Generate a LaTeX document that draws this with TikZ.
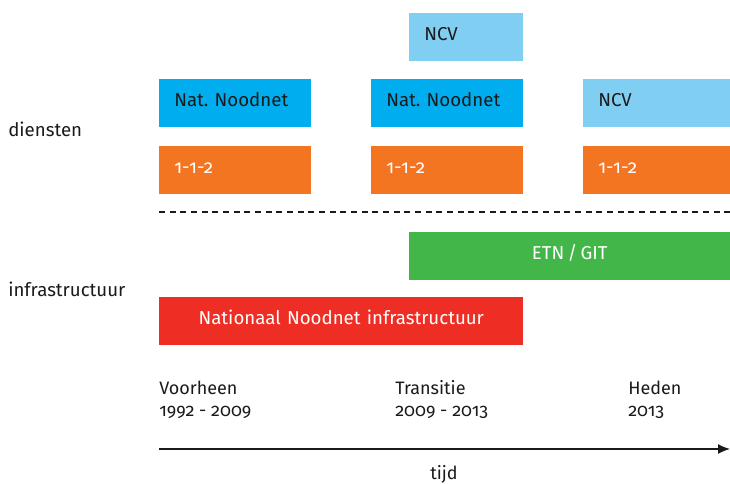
\documentclass[tikz,border=0pt]{standalone}
\usepackage{fontspec}
\setmainfont{Fira Sans}[Numbers=OldStyle]
\usetikzlibrary{arrows.meta}
\frenchspacing
\definecolor{ltblue}{HTML}{80CEF2}
\definecolor{midblue}{HTML}{00AEEF}
\definecolor{orng}{HTML}{F47521}
\definecolor{grn}{HTML}{43B649}
\definecolor{rd}{HTML}{EE2E24}
\definecolor{ink}{HTML}{1A1A1A}
\tikzset{
  bx/.style={rectangle, anchor=north west, inner xsep=11.25pt, inner ysep=0pt,
    minimum height=35.6pt, text height=0.69em, text depth=0.12em, font=\fontsize{14}{16}\selectfont},
  lbox/.style={bx, align=left},
  cbox/.style={bx, align=center},
  lbl/.style={anchor=base west, inner sep=0pt, text=ink, font=\fontsize{14}{16}\selectfont, align=left},
  tlbl/.style={lbl, font=\fontsize{13.5}{16.5}\selectfont},
}
\begin{document}
\begin{tikzpicture}[x=0.75pt,y=-0.75pt]
\useasboundingbox (0,0) rectangle (730,484);
% services
\node[lbox, fill=ltblue, text=ink, text width=63pt] (ncvtop) at (409,13) {NCV};
\node[lbox, fill=midblue, text=ink, text width=91.5pt] (nn1) at (159,79) {Nat. Noodnet};
\node[lbox, fill=midblue, text=ink, text width=91.5pt] (nn2) at (371,79) {Nat. Noodnet};
\node[lbox, fill=ltblue, text=ink, text width=87.75pt] (ncv) at (583,79) {NCV};
\node[lbox, fill=orng, text=white, text width=91.5pt] (e1) at (159,146) {1-1-2};
\node[lbox, fill=orng, text=white, text width=91.5pt] (e2) at (371,146) {1-1-2};
\node[lbox, fill=orng, text=white, text width=87.75pt] (e3) at (583,146) {1-1-2};
% infrastructure
\node[cbox, fill=grn, text=white, text width=218.25pt] (etn) at (409,232) {ETN\hspace{0.18em}/\hspace{0.18em}GIT};
\node[cbox, fill=rd, text=white, text width=250.5pt] (nni) at (159,297) {Nationaal Noodnet infrastructuur};
% side labels
\node[lbl] (dien) at (8,137) {diensten};
\node[lbl] (infra) at (8,296) {infrastructuur};
% dashed separator
\coordinate (da) at (159,212);
\coordinate (db) at (730,212);
\draw[ink, line width=0.9pt, dash pattern=on 4.5pt off 3.5pt] (da) -- (db);
% timeline labels (anchored at baseline of last line)
\node[tlbl] (t1) at (159,416.7) {Voorheen\\1992 - 2009};
\node[tlbl] (t2) at (395,416.7) {Transitie\\2009 - 2013};
\node[tlbl] (t3) at (628,416.7) {Heden\\2013};
% time axis
\coordinate (ta) at (159,449);
\coordinate (tb) at (730,449);
\draw[ink, line width=1pt, -{Latex[length=9pt,width=7.5pt]}] (ta) -- (tb);
\node[tlbl, anchor=base] (tijd) at (444,479) {tijd};
\end{tikzpicture}
\end{document}
